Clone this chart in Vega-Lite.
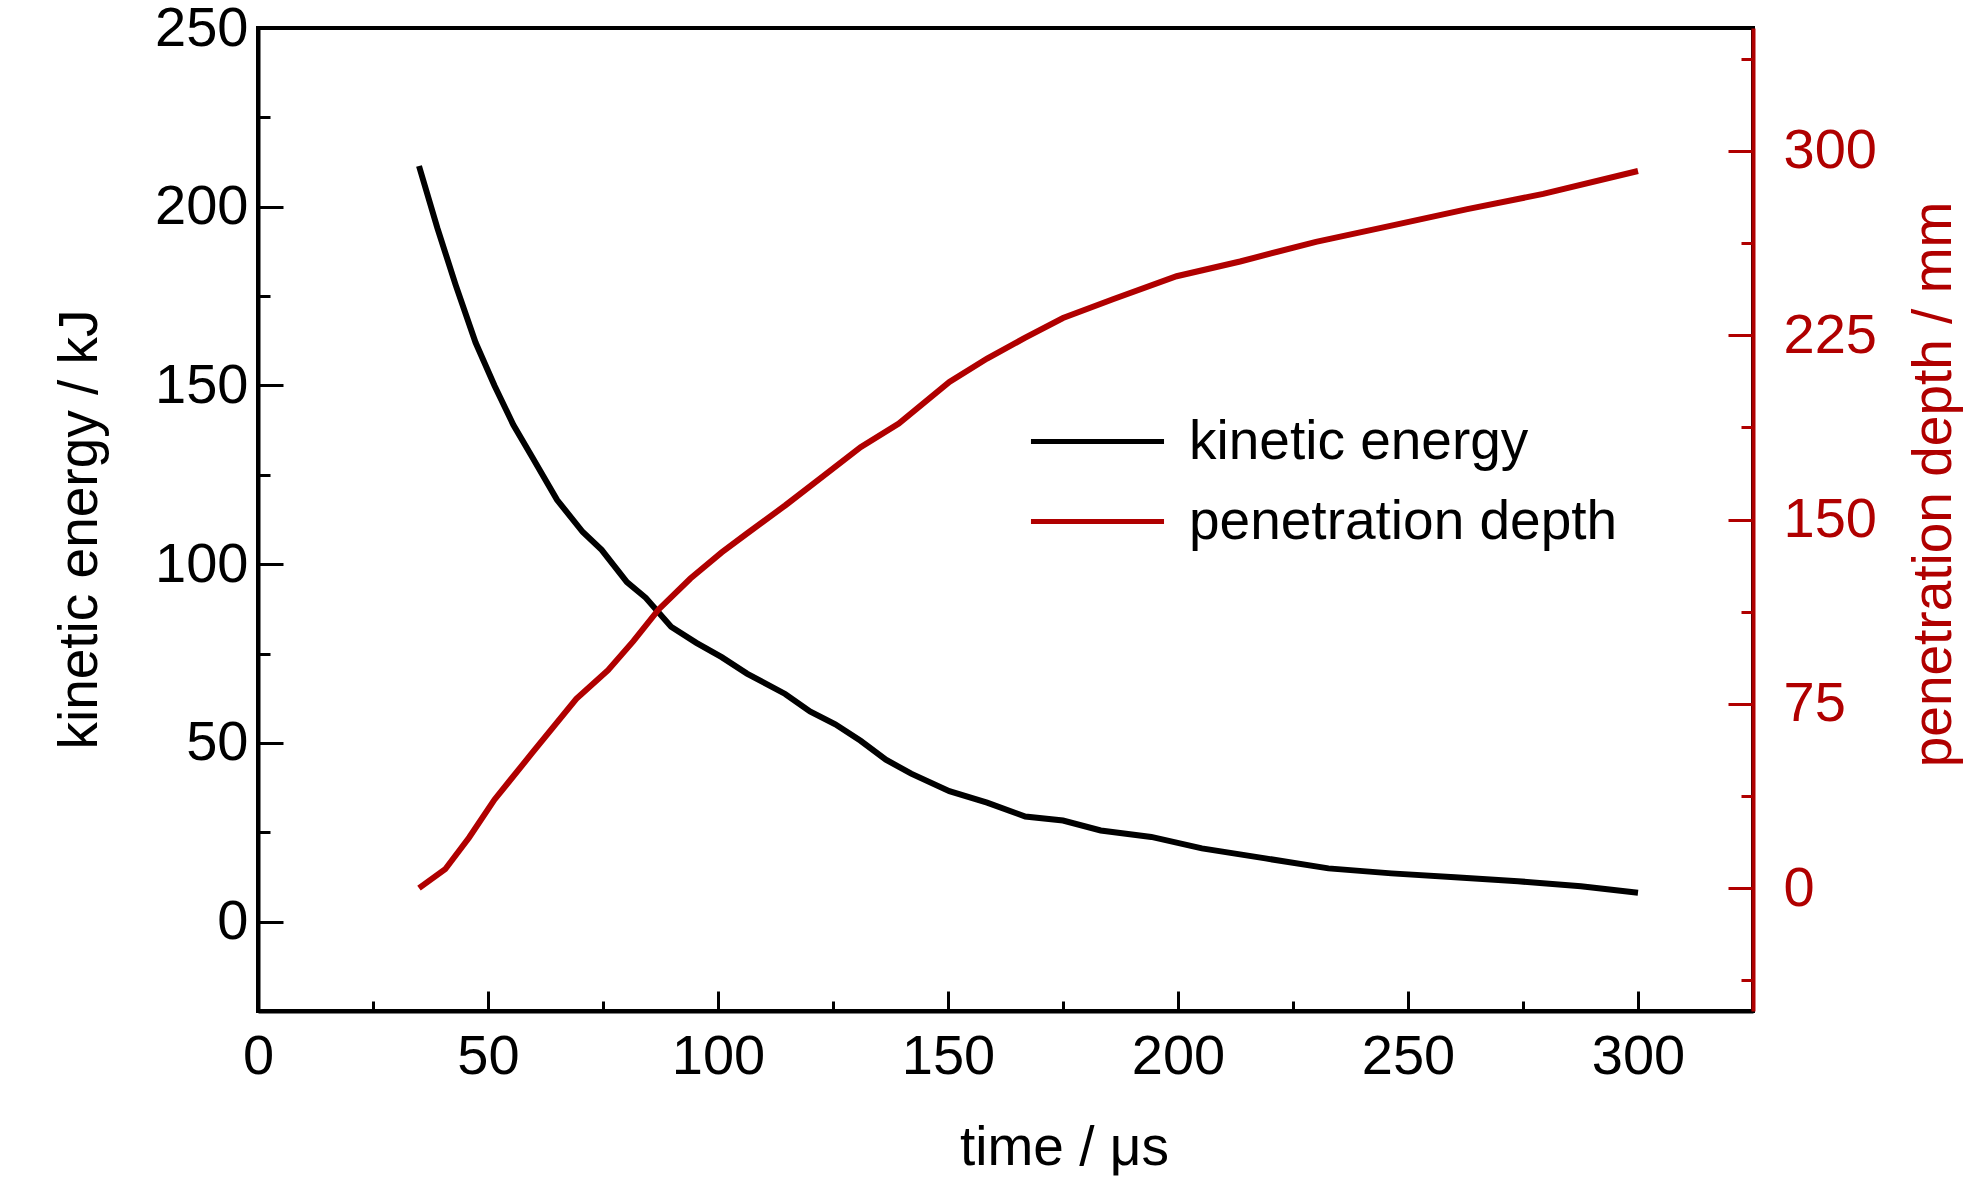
{
  "$schema": "https://vega.github.io/schema/vega-lite/v6.json",
  "width": 1495,
  "height": 983,
  "autosize": {"type": "none"},
  "padding": {"left": 258, "top": 28, "right": 231, "bottom": 170},
  "background": "white",
  "config": {
    "view": {"stroke": "#000", "strokeWidth": 4},
    "font": "Liberation Sans, Arial, sans-serif",
    "axis": {
      "grid": false,
      "labelFont": "Liberation Sans, Arial, sans-serif",
      "titleFont": "Liberation Sans, Arial, sans-serif",
      "labelFontSize": 56,
      "titleFontSize": 55,
      "titleFontWeight": "normal",
      "labelColor": "#000",
      "titleColor": "#000",
      "domainColor": "#000",
      "tickColor": "#000",
      "domainWidth": 4,
      "tickWidth": 3,
      "labelFlush": false,
      "labelOverlap": false,
      "labelBound": false
    }
  },
  "data": {
    "values": [
      {"t": 35, "series": "kinetic energy", "value": 211.4},
      {"t": 39, "series": "kinetic energy", "value": 194},
      {"t": 43, "series": "kinetic energy", "value": 178},
      {"t": 47.3, "series": "kinetic energy", "value": 162},
      {"t": 51.4, "series": "kinetic energy", "value": 150},
      {"t": 55.5, "series": "kinetic energy", "value": 139},
      {"t": 59.6, "series": "kinetic energy", "value": 130},
      {"t": 65, "series": "kinetic energy", "value": 118},
      {"t": 70.6, "series": "kinetic energy", "value": 109},
      {"t": 74.7, "series": "kinetic energy", "value": 104},
      {"t": 80.2, "series": "kinetic energy", "value": 95},
      {"t": 84.3, "series": "kinetic energy", "value": 90.6},
      {"t": 89.8, "series": "kinetic energy", "value": 82.5},
      {"t": 95.3, "series": "kinetic energy", "value": 78},
      {"t": 100.8, "series": "kinetic energy", "value": 74},
      {"t": 106.3, "series": "kinetic energy", "value": 69.4},
      {"t": 114.6, "series": "kinetic energy", "value": 63.7},
      {"t": 120, "series": "kinetic energy", "value": 58.8},
      {"t": 125.5, "series": "kinetic energy", "value": 55.2},
      {"t": 131, "series": "kinetic energy", "value": 50.6},
      {"t": 136.5, "series": "kinetic energy", "value": 45.3},
      {"t": 142, "series": "kinetic energy", "value": 41.4},
      {"t": 150.3, "series": "kinetic energy", "value": 36.5},
      {"t": 158.5, "series": "kinetic energy", "value": 33.3},
      {"t": 166.8, "series": "kinetic energy", "value": 29.4},
      {"t": 175, "series": "kinetic energy", "value": 28.3},
      {"t": 183.2, "series": "kinetic energy", "value": 25.5},
      {"t": 194.2, "series": "kinetic energy", "value": 23.7},
      {"t": 205.2, "series": "kinetic energy", "value": 20.5},
      {"t": 219, "series": "kinetic energy", "value": 17.7},
      {"t": 232.7, "series": "kinetic energy", "value": 14.9},
      {"t": 246.4, "series": "kinetic energy", "value": 13.5},
      {"t": 260.2, "series": "kinetic energy", "value": 12.4},
      {"t": 273.9, "series": "kinetic energy", "value": 11.3},
      {"t": 287.6, "series": "kinetic energy", "value": 9.9},
      {"t": 300, "series": "kinetic energy", "value": 8.1},
      {"t": 35, "series": "penetration depth", "value": 0},
      {"t": 40.7, "series": "penetration depth", "value": 7.7},
      {"t": 45.9, "series": "penetration depth", "value": 20.6},
      {"t": 51.4, "series": "penetration depth", "value": 36},
      {"t": 59.6, "series": "penetration depth", "value": 55},
      {"t": 69.2, "series": "penetration depth", "value": 77},
      {"t": 76.1, "series": "penetration depth", "value": 88.7},
      {"t": 81.6, "series": "penetration depth", "value": 100.5},
      {"t": 87.1, "series": "penetration depth", "value": 113.4},
      {"t": 94, "series": "penetration depth", "value": 126},
      {"t": 100.8, "series": "penetration depth", "value": 136.6},
      {"t": 106.3, "series": "penetration depth", "value": 144.3},
      {"t": 114.6, "series": "penetration depth", "value": 155.7},
      {"t": 122.8, "series": "penetration depth", "value": 167.5},
      {"t": 131, "series": "penetration depth", "value": 179.4},
      {"t": 139.3, "series": "penetration depth", "value": 189},
      {"t": 150.3, "series": "penetration depth", "value": 206},
      {"t": 158.5, "series": "penetration depth", "value": 215.5},
      {"t": 166.8, "series": "penetration depth", "value": 224},
      {"t": 175, "series": "penetration depth", "value": 232},
      {"t": 186, "series": "penetration depth", "value": 239.7},
      {"t": 199.7, "series": "penetration depth", "value": 249},
      {"t": 213.5, "series": "penetration depth", "value": 255},
      {"t": 230, "series": "penetration depth", "value": 263},
      {"t": 246.4, "series": "penetration depth", "value": 269.6},
      {"t": 262.9, "series": "penetration depth", "value": 276.3},
      {"t": 279.4, "series": "penetration depth", "value": 282.5},
      {"t": 300, "series": "penetration depth", "value": 291.8}
    ]
  },
  "layer": [
    {
      "transform": [{"filter": "datum.series === 'kinetic energy'"}],
      "mark": {"type": "line", "strokeWidth": 6},
      "encoding": {
        "x": {
          "field": "t",
          "type": "quantitative",
          "scale": {"domain": [0, 325], "nice": false, "zero": false},
          "axis": {
            "title": "time / μs",
            "values": [0, 25, 50, 75, 100, 125, 150, 175, 200, 225, 250, 275, 300],
            "labelExpr": "datum.value % 50 === 0 ? datum.label : ''",
            "tickSize": {"expr": "datum.value % 50 === 0 ? -20 : -10"},
            "labelPadding": 38,
            "titlePadding": 27,
            "titleX": 806
          }
        },
        "y": {
          "field": "value",
          "type": "quantitative",
          "scale": {"domain": [-25, 250], "nice": false, "zero": false},
          "axis": {
            "title": "kinetic energy / kJ",
            "values": [0, 25, 50, 75, 100, 125, 150, 175, 200, 225, 250],
            "labelExpr": "datum.value % 50 === 0 ? datum.label : ''",
            "tickSize": {"expr": "datum.value % 50 === 0 ? -25 : -12"},
            "labelPadding": 35,
            "titlePadding": 46,
            "titleY": 501
          }
        },
        "color": {
          "field": "series",
          "type": "nominal",
          "scale": {"domain": ["kinetic energy", "penetration depth"], "range": ["#000000", "#b00000"]},
          "legend": {
            "orient": "none",
            "legendX": 812,
            "legendY": 386,
            "title": null,
            "padding": 0,
            "symbolType": "M-5,0H5",
            "symbolSize": 708,
            "symbolStrokeWidth": 5,
            "symbolFillColor": "transparent",
            "labelFont": "Liberation Sans, Arial, sans-serif",
            "labelFontSize": 55,
            "labelColor": "#000",
            "labelOffset": 64,
            "rowPadding": 24,
            "labelLimit": 0
          }
        }
      }
    },
    {
      "transform": [{"filter": "datum.series === 'penetration depth'"}],
      "mark": {"type": "line", "strokeWidth": 6},
      "encoding": {
        "x": {"field": "t", "type": "quantitative"},
        "y": {
          "field": "value",
          "type": "quantitative",
          "scale": {"domain": [-50, 350], "nice": false, "zero": false},
          "axis": {
            "orient": "right",
            "title": "penetration depth / mm",
            "values": [-37.5, 0, 37.5, 75, 112.5, 150, 187.5, 225, 262.5, 300, 337.5],
            "labelExpr": "datum.value % 75 === 0 ? datum.label : ''",
            "tickSize": {"expr": "datum.value % 75 === 0 ? -25 : -12"},
            "labelPadding": 55,
            "titlePadding": 31,
            "titleAngle": -90,
            "titleBaseline": "top",
            "titleY": 456,
            "domainColor": "#b00000",
            "tickColor": "#b00000",
            "labelColor": "#b00000",
            "titleColor": "#b00000"
          }
        },
        "color": {"field": "series", "type": "nominal"}
      }
    }
  ],
  "resolve": {"scale": {"y": "independent"}}
}
